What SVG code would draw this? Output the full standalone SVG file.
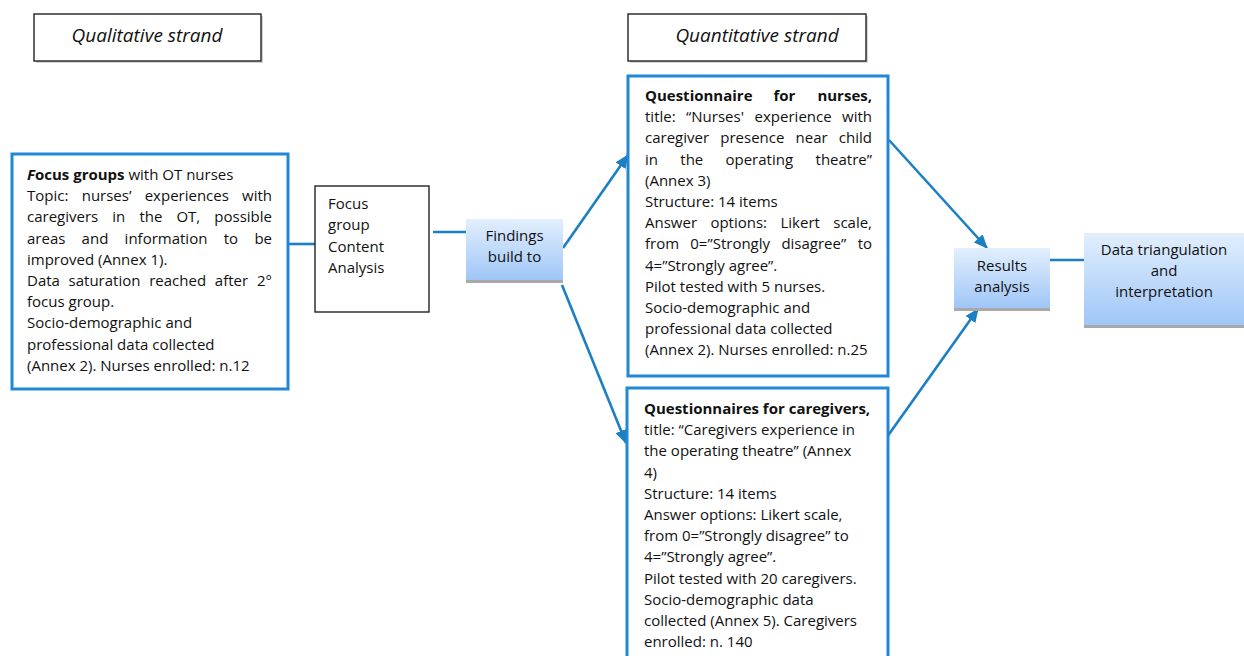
<svg xmlns="http://www.w3.org/2000/svg" width="1244" height="656" viewBox="0 0 1244 656">
<defs>
<linearGradient id="g" x1="0" y1="0" x2="0" y2="1">
<stop offset="0" stop-color="#e2effd"/>
<stop offset="1" stop-color="#9fc6f7"/>
</linearGradient>
<marker id="ah" markerUnits="userSpaceOnUse" markerWidth="14" markerHeight="12" viewBox="0 0 14 12" refX="13" refY="6" orient="auto">
<path d="M0,0 L14,6 L0,12 z" fill="#1b7fc4"/>
</marker>
<style>
text{font-family:"Open Sans","Liberation Sans",sans-serif;font-size:15px;fill:#111}
.hd{font-size:19px;font-style:italic}
.b{font-weight:bold}
.bl{fill:#fff;stroke:#2088d4;stroke-width:3}
.bk{fill:#fff;stroke:#222;stroke-width:1.4}
.gr{fill:url(#g);stroke:none}
.sh{fill:#a9a9a9}
.c{text-anchor:middle}
.e{text-anchor:end}
.ln{stroke:#1b7fc4;stroke-width:2.6;fill:none}
</style>
</defs>
<rect width="1244" height="656" fill="#fff"/>

<g id="hdr-qual">
<rect x="36" y="16" width="227" height="47" class="sh" opacity="0.5"/>
<rect x="34" y="14" width="227" height="47" class="bk"/>
<text class="hd c" x="147" y="42">Qualitative strand</text>
</g>
<g id="hdr-quant">
<rect x="630" y="16" width="238" height="47" class="sh" opacity="0.5"/>
<rect x="628" y="14" width="238" height="47" class="bk"/>
<text class="hd c" x="757" y="42">Quantitative strand</text>
</g>

<g id="connectors">
<line class="ln" x1="288" y1="244" x2="315" y2="244"/>
<line class="ln" x1="433" y1="232" x2="466" y2="232"/>
<line class="ln" x1="563" y1="248" x2="628" y2="155" marker-end="url(#ah)"/>
<line class="ln" x1="562" y1="285" x2="626" y2="443" marker-end="url(#ah)"/>
<line class="ln" x1="889" y1="140" x2="987" y2="248" marker-end="url(#ah)"/>
<line class="ln" x1="887" y1="437" x2="978" y2="309" marker-end="url(#ah)"/>
<line class="ln" x1="1050" y1="260" x2="1084" y2="260"/>
</g>

<g id="focus-groups">
<rect x="12" y="154" width="276" height="235" class="bl"/>
<text x="27" y="180"><tspan class="b" font-style="italic">F</tspan><tspan class="b">ocus groups</tspan> with OT nurses</text>
<text y="201.2"><tspan x="27">Topic:</tspan><tspan x="81.7">nurses’</tspan><tspan x="144.7">experiences</tspan></text>
<text y="201.2" x="272" class="e">with</text>
<text y="222.4"><tspan x="27">caregivers</tspan><tspan x="112.3">in</tspan><tspan x="139.4">the</tspan><tspan x="176.4">OT,</tspan></text>
<text y="222.4" x="272" class="e">possible</text>
<text y="243.6"><tspan x="27">areas</tspan><tspan x="81.6">and</tspan><tspan x="124.6">information</tspan><tspan x="223.7">to</tspan></text>
<text y="243.6" x="272" class="e">be</text>
<text x="27" y="264.8">improved (Annex 1).</text>
<text y="286"><tspan x="27">Data</tspan><tspan x="68.6">saturation</tspan><tspan x="149.2">reached</tspan><tspan x="214.8">after</tspan></text>
<text y="286" x="272" class="e">2°</text>
<text x="27" y="307.2">focus group.</text>
<text x="27" y="328.4">Socio-demographic and</text>
<text x="27" y="349.6">professional data collected</text>
<text x="27" y="370.8">(Annex 2). Nurses enrolled: n.12</text>
</g>

<g id="content-analysis">
<rect x="315" y="186" width="114" height="126" class="bk"/>
<text x="328" y="209">Focus</text>
<text x="328" y="230.3">group</text>
<text x="328" y="251.6">Content</text>
<text x="328" y="272.9">Analysis</text>
</g>

<g id="findings">
<rect x="466" y="280" width="97" height="3" class="sh"/>
<rect x="466" y="219" width="97" height="61" class="gr"/>
<text class="c" x="514.5" y="241">Findings</text>
<text class="c" x="514.5" y="262">build to</text>
</g>

<g id="q-nurses">
<rect x="628" y="76" width="260" height="300" class="bl"/>
<text y="101" class="b"><tspan x="645">Questionnaire</tspan><tspan x="773.5">for</tspan></text>
<text y="101" x="872" class="b e">nurses,</text>
<text y="122.2"><tspan x="645">title:</tspan><tspan x="686.1">“Nurses'</tspan><tspan x="754.6">experience</tspan></text>
<text y="122.2" x="872" class="e">with</text>
<text y="143.4"><tspan x="645">caregiver</tspan><tspan x="720.3">presence</tspan><tspan x="795.6">near</tspan></text>
<text y="143.4" x="872" class="e">child</text>
<text y="164.6"><tspan x="645">in</tspan><tspan x="680.3">the</tspan><tspan x="725.5">operating</tspan></text>
<text y="164.6" x="872" class="e">theatre”</text>
<text x="645" y="185.8">(Annex 3)</text>
<text x="645" y="207">Structure: 14 items</text>
<text y="228.2"><tspan x="645">Answer</tspan><tspan x="710.4">options:</tspan><tspan x="780.5">Likert</tspan></text>
<text y="228.2" x="872" class="e">scale,</text>
<text y="249.4"><tspan x="645">from</tspan><tspan x="690.3">0=”Strongly</tspan><tspan x="781.4">disagree”</tspan></text>
<text y="249.4" x="872" class="e">to</text>
<text x="645" y="270.6">4=”Strongly agree”.</text>
<text x="645" y="291.8">Pilot tested with 5 nurses.</text>
<text x="645" y="313">Socio-demographic and</text>
<text x="645" y="334.2">professional data collected</text>
<text x="645" y="355.4">(Annex 2). Nurses enrolled: n.25</text>
</g>

<g id="q-caregivers">
<rect x="627" y="388" width="261" height="280" class="bl"/>
<text x="644" y="414" class="b">Questionnaires for caregivers,</text>
<text x="644" y="435.2">title: “Caregivers experience in</text>
<text x="644" y="456.4">the operating theatre” (Annex</text>
<text x="644" y="477.6">4)</text>
<text x="644" y="498.8">Structure: 14 items</text>
<text x="644" y="520">Answer options: Likert scale,</text>
<text x="644" y="541.2">from 0=”Strongly disagree” to</text>
<text x="644" y="562.4">4=”Strongly agree”.</text>
<text x="644" y="583.6">Pilot tested with 20 caregivers.</text>
<text x="644" y="604.8">Socio-demographic data</text>
<text x="644" y="626">collected (Annex 5). Caregivers</text>
<text x="644" y="647.2">enrolled: n. 140</text>
</g>

<g id="results">
<rect x="954" y="308" width="96" height="3" class="sh"/>
<rect x="954" y="248" width="96" height="60" class="gr"/>
<text class="c" x="1002" y="271">Results</text>
<text class="c" x="1002" y="292">analysis</text>
</g>

<g id="triangulation">
<rect x="1084" y="325" width="170" height="3" class="sh"/>
<rect x="1084" y="233" width="170" height="92" class="gr"/>
<text class="c" x="1164" y="255">Data triangulation</text>
<text class="c" x="1164" y="276">and</text>
<text class="c" x="1164" y="297">interpretation</text>
</g>
</svg>
